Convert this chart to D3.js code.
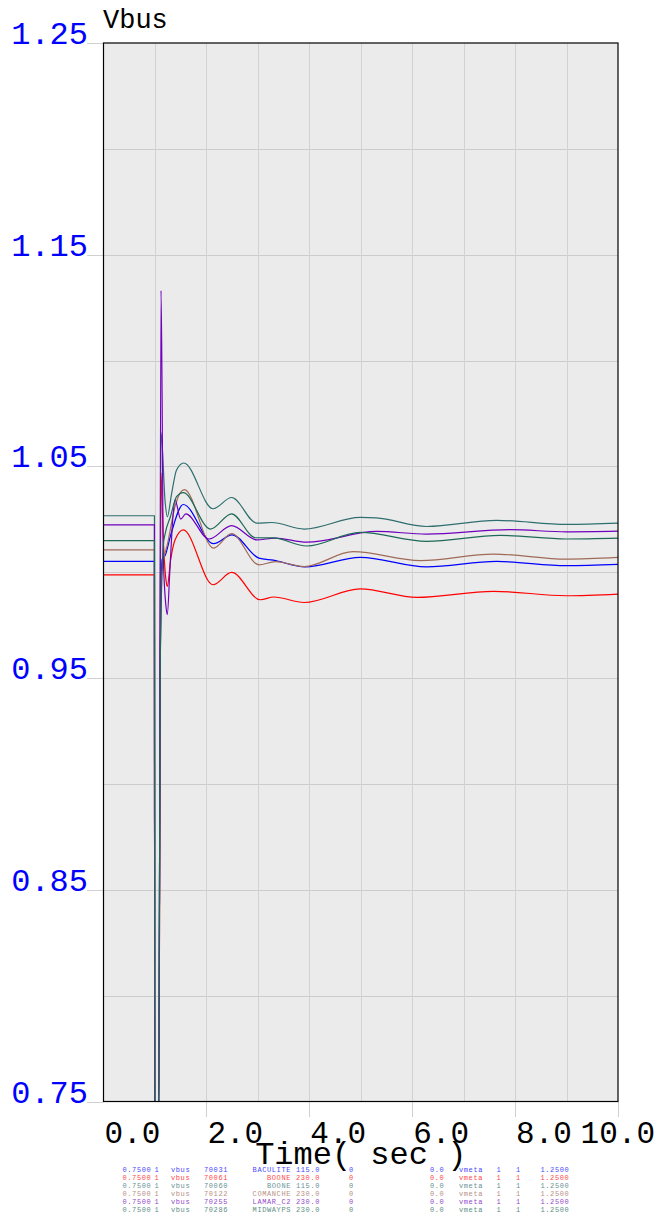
<!DOCTYPE html>
<html lang="en">
<head>
    <meta charset="UTF-8">
    <title>Vbus</title>
    <script src="https://d3js.org/d3.v7.min.js"></script>
    <style>
        body{
            margin: 0;
            background: #ffffff;
        }
        svg text{
            font-family: "Liberation Mono", "DejaVu Sans Mono", monospace;
        }
    </style>
</head>
<body>
    <div id="chart"></div>

    <script>
        // Bus voltage traces, [time (sec), voltage (pu)]
        const vbus70031 = [[0,1.0051],[0.99,1.0051],[0.995,0.6],[1.075,0.6],[1.10,0.95],[1.14,1.006],[1.2,1.008],[1.3,1.017],[1.55,1.032],[2.14,1.0135],[2.5,1.0177],[3.02,1.0067],[3.3,1.0057],[3.92,1.0025],[4.99,1.007],[6.28,1.0025],[7.64,1.0051],[9.0,1.0031],[10,1.0037]];
        const vbus70061 = [[0,0.9988],[0.99,0.9988],[0.995,0.6],[1.075,0.6],[1.118,1.0468],[1.16,1.0168],[1.215,0.9963],[1.24,0.9933],[1.305,1.0058],[1.39,1.0152],[1.55,1.020],[2.13,0.9941],[2.49,0.9999],[3.05,0.987],[3.31,0.9883],[3.9,0.9857],[4.99,0.9921],[6.09,0.9881],[7.58,0.991],[9.0,0.9889],[10,0.9897]];
        const vbus70060 = [[0,1.0267],[0.99,1.0267],[0.995,0.6],[1.075,0.6],[1.118,1.066],[1.2,1.0326],[1.24,1.0262],[1.325,1.0373],[1.42,1.0483],[1.56,1.0516],[2.13,1.030],[2.49,1.0353],[2.98,1.0232],[3.27,1.0235],[3.9,1.0204],[4.99,1.0259],[5.3,1.0257],[6.28,1.0216],[7.64,1.0245],[9.0,1.0226],[10,1.0232]];
        const vbus70122 = [[0,1.0106],[0.99,1.0106],[0.995,0.6],[1.075,0.6],[1.10,0.95],[1.14,1.0012],[1.25,1.014],[1.40,1.032],[1.57,1.039],[2.14,1.0114],[2.49,1.0182],[3.02,1.0035],[3.34,1.005],[3.9,1.0027],[4.85,1.0097],[6.16,1.0055],[7.58,1.0086],[9.0,1.0062],[10,1.007]];
        const vbus70255 = [[0,1.0224],[0.99,1.0224],[0.995,0.6],[1.075,0.6],[1.118,1.133],[1.14,1.08],[1.16,1.009],[1.215,0.9837],[1.24,0.98],[1.29,1.001],[1.345,1.0247],[1.39,1.0342],[1.50,1.0251],[1.60,1.0276],[2.05,1.0157],[2.49,1.022],[2.98,1.0153],[3.34,1.0161],[3.95,1.0142],[5.31,1.0193],[6.28,1.018],[7.9,1.0201],[9.0,1.0191],[10,1.0194]];
        const vbus70286 = [[0,1.0149],[0.99,1.0149],[0.995,0.6],[1.075,0.6],[1.10,0.95],[1.16,1.0121],[1.20,1.0184],[1.30,1.0262],[1.42,1.0357],[1.55,1.0376],[2.08,1.0204],[2.49,1.0276],[2.95,1.0163],[3.3,1.0162],[3.95,1.0124],[4.99,1.0188],[6.28,1.0146],[7.71,1.0174],[9.0,1.0157],[10,1.0161]];

        const traces = [vbus70031, vbus70061, vbus70060, vbus70122, vbus70255, vbus70286];

        // Legend fields
        const busIds = ["70031", "70061", "70060", "70122", "70255", "70286"];
        const busNames = ["BACULITE", "BOONE", "BOONE", "COMANCHE", "LAMAR_C2", "MIDWAYPS"];
        const baseKv = ["115.0", "230.0", "115.0", "230.0", "230.0", "230.0"];
        const lineColors = ["#0000ff", "#ff0000", "#2f6e6e", "#a06a58", "#7000bb", "#1e6a58"];

        // Axis ticks
        const xTicks = [0, 2, 4, 6, 8, 10];
        const yTicks = [0.75, 0.85, 0.95, 1.05, 1.15, 1.25];
        const xGrid = [1, 2, 3, 4, 5, 6, 7, 8, 9];
        const yGrid = [0.80, 0.85, 0.90, 0.95, 1.00, 1.05, 1.10, 1.15, 1.20];

        const width = 660;
        const height = 1220;
        const plotLeft = 103.5, plotRight = 618, plotTop = 43, plotBottom = 1101.5;

        const svg = d3.select("#chart")
            .append("svg")
            .attr("width", width)
            .attr("height", height);

        const x = d3.scaleLinear().domain([0, 10]).range([plotLeft, plotRight]);
        const y = d3.scaleLinear().domain([0.75, 1.25]).range([plotBottom, plotTop]).clamp(true);

        // plot background
        svg.append("rect")
            .attr("x", plotLeft)
            .attr("y", plotTop)
            .attr("width", plotRight - plotLeft)
            .attr("height", plotBottom - plotTop)
            .attr("fill", "#ebebeb");

        // grid
        svg.selectAll(".hgrid")
            .data(yGrid)
            .enter().append("line")
            .attr("class", "hgrid")
            .attr("x1", plotLeft)
            .attr("x2", plotRight)
            .attr("y1", d => Math.round(y(d)) + 0.5)
            .attr("y2", d => Math.round(y(d)) + 0.5)
            .attr("stroke", "#cccccc");

        svg.selectAll(".vgrid")
            .data(xGrid)
            .enter().append("line")
            .attr("class", "vgrid")
            .attr("x1", d => Math.round(x(d)) + 0.5)
            .attr("x2", d => Math.round(x(d)) + 0.5)
            .attr("y1", plotTop)
            .attr("y2", plotBottom)
            .attr("stroke", "#d2d2d2");

        // tick marks outside the frame
        svg.selectAll(".ytick")
            .data(yTicks)
            .enter().append("line")
            .attr("class", "ytick")
            .attr("x1", 87)
            .attr("x2", plotLeft)
            .attr("y1", d => Math.round(y(d)) + 0.5)
            .attr("y2", d => Math.round(y(d)) + 0.5)
            .attr("stroke", "#d0d0d0");

        svg.selectAll(".xtick")
            .data(xTicks.filter(d => d > 0))
            .enter().append("line")
            .attr("class", "xtick")
            .attr("x1", d => Math.round(x(d)) + 0.5)
            .attr("x2", d => Math.round(x(d)) + 0.5)
            .attr("y1", plotBottom)
            .attr("y2", 1117)
            .attr("stroke", "#d0d0d0");

        // traces
        svg.append("clipPath")
            .attr("id", "plotClip")
            .append("rect")
            .attr("x", plotLeft)
            .attr("y", plotTop)
            .attr("width", plotRight - plotLeft)
            .attr("height", plotBottom - plotTop);

        const line = d3.line()
            .x(d => x(d[0]))
            .y(d => y(d[1]))
            .curve(d3.curveMonotoneX);

        svg.append("g")
            .attr("clip-path", "url(#plotClip)")
            .selectAll("path")
            .data(traces)
            .enter().append("path")
            .attr("d", line)
            .attr("fill", "none")
            .attr("stroke", (d, i) => lineColors[i])
            .attr("stroke-width", 1.2);

        // frame
        svg.append("rect")
            .attr("x", plotLeft)
            .attr("y", plotTop)
            .attr("width", plotRight - plotLeft)
            .attr("height", plotBottom - plotTop)
            .attr("fill", "none")
            .attr("stroke", "#000000")
            .attr("stroke-width", 1.2);

        // y labels
        svg.selectAll(".ylabel")
            .data(yTicks)
            .enter().append("text")
            .attr("class", "ylabel")
            .attr("x", 88)
            .attr("y", d => y(d) + 1)
            .attr("text-anchor", "end")
            .attr("fill", "#0000ff")
            .style("font-size", "32px")
            .text(d => d3.format(".2f")(d));

        // x labels, the last one is pulled back inside the page
        svg.selectAll(".xlabel")
            .data(xTicks)
            .enter().append("text")
            .attr("class", "xlabel")
            .attr("x", d => x(d) + 1)
            .attr("y", 1143)
            .attr("fill", "#000000")
            .style("font-size", "31px")
            .text(d => d3.format(".1f")(d))
            .each(function() {
                const len = this.getComputedTextLength();
                const x0 = +this.getAttribute("x");
                if (x0 + len > 655) this.setAttribute("x", 655 - len);
            });

        svg.append("text")
            .attr("x", (plotLeft + plotRight) / 2)
            .attr("y", 1164)
            .attr("text-anchor", "middle")
            .style("font-size", "32px")
            .text("Time( sec )");

        svg.append("text")
            .attr("x", 103)
            .attr("y", 28)
            .style("font-size", "27px")
            .text("Vbus");

        // legend rows
        const legendCols = [
            {x: 122.5, anchor: "start", text: i => "0.7500"},
            {x: 154.5, anchor: "start", text: i => "1"},
            {x: 171, anchor: "start", text: i => "vbus"},
            {x: 204, anchor: "start", text: i => busIds[i]},
            {x: 291, anchor: "end", text: i => busNames[i]},
            {x: 296, anchor: "start", text: i => baseKv[i]},
            {x: 349, anchor: "start", text: i => "0"},
            {x: 430, anchor: "start", text: i => "0.0"},
            {x: 459, anchor: "start", text: i => "vmeta"},
            {x: 496.5, anchor: "start", text: i => "1"},
            {x: 516, anchor: "start", text: i => "1"},
            {x: 540.5, anchor: "start", text: i => "1.2500"}
        ];

        const rows = svg.selectAll(".legendRow")
            .data(busIds)
            .enter().append("g")
            .attr("class", "legendRow")
            .attr("fill", (d, i) => lineColors[i])
            .attr("opacity", 0.75);

        rows.each(function(d, i) {
            const g = d3.select(this);
            legendCols.forEach(c => {
                g.append("text")
                    .attr("x", c.x)
                    .attr("y", 1171.5 + i * 8)
                    .attr("text-anchor", c.anchor)
                    .style("font-size", "7px")
                    .style("letter-spacing", "0.6px")
                    .text(c.text(i));
            });
        });
    </script>
</body>
</html>
